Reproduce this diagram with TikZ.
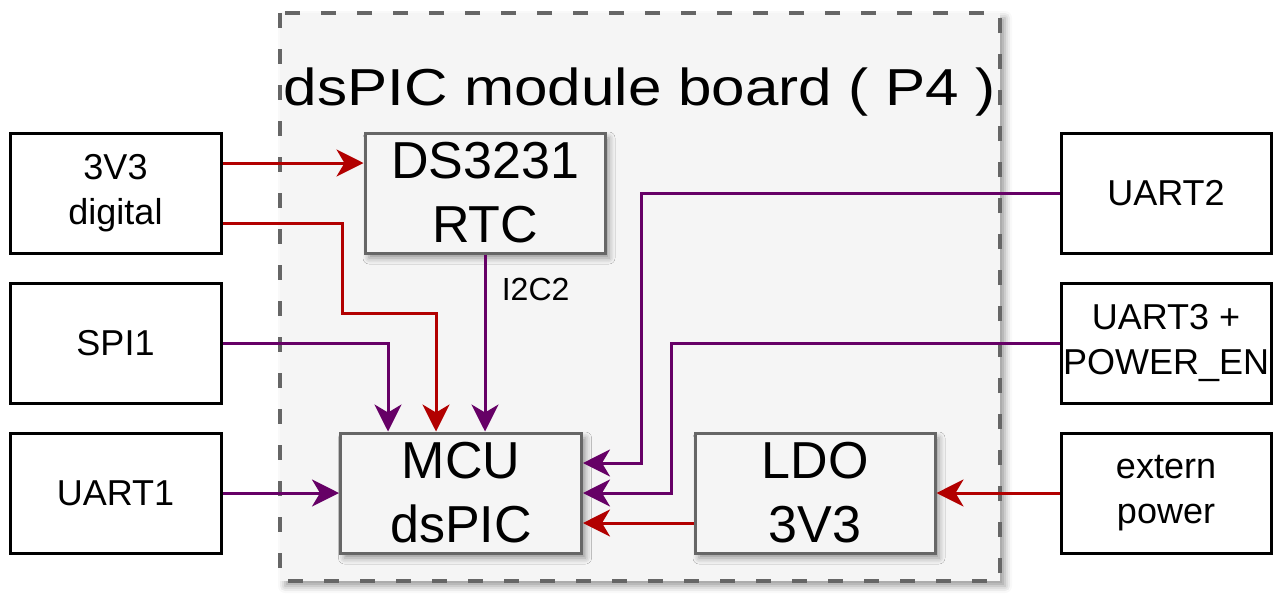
\documentclass[tikz,border=0pt]{standalone}
\usepackage{fontspec}
\setmainfont{Liberation Sans}
\usetikzlibrary{arrows.meta,shadows.blur}

\definecolor{pwrred}{HTML}{B20000}
\definecolor{sigpurple}{HTML}{660066}
\definecolor{boardgray}{HTML}{F5F5F5}
\definecolor{edgegray}{HTML}{666666}

\begin{document}
\begin{tikzpicture}[
    x=1pt, y=-1pt,
    block/.style={rectangle, draw=edgegray, fill=boardgray, line width=3pt, minimum width=240pt, minimum height=120pt, align=center, inner sep=0pt, font=\fontsize{52}{64}\selectfont, blur shadow={shadow xshift=4pt, shadow yshift=-5pt, shadow blur radius=6pt, shadow opacity=40}},
    port/.style={rectangle, draw=black, fill=white, line width=3pt, minimum width=211pt, minimum height=120pt, align=center, inner sep=0pt, font=\fontsize{36}{45}\selectfont},
    wire/.style={line width=3pt, -{Stealth[length=27pt, width=27pt, inset=8pt]}},
    pwr/.style={wire, draw=pwrred},
    sig/.style={wire, draw=sigpurple}
]
\useasboundingbox (0,0) rectangle (1281,600);

% Module board
\draw[draw=edgegray, fill=boardgray, line width=4.5pt, dash pattern=on 15pt off 21pt, blur shadow={shadow xshift=5pt, shadow yshift=-5pt, shadow blur radius=7pt, shadow opacity=40}] (280,13) rectangle (1000,581);
\node[anchor=base, font=\fontsize{52}{64}\selectfont] (title) at (640,105) {\scalebox{1.157}[1]{dsPIC module board ( P4 )}};

% Blocks on the board
\node[block] (rtc) at (485,193) {DS3231\\RTC};
\node[block, minimum width=241pt] (mcu) at (461,493) {MCU\\dsPIC};
\node[block] (ldo) at (815,493) {LDO\\3V3};

% External ports
\node[port] (digital) at (115.5,193) {3V3\\digital};
\node[port] (spi) at (115.5,343) {SPI1};
\node[port] (uartone) at (115.5,493) {UART1};
\node[port, minimum width=210pt] (uarttwo) at (1166,193) {UART2};
\node[port, minimum width=210pt] (uartthree) at (1166,343) {UART3 +\\POWER\_EN};
\node[port, minimum width=210pt] (extpwr) at (1166,493) {extern\\power};

% Connections
\draw[pwr] ([yshift=30pt]digital.east) -- ([yshift=30pt]rtc.west);
\draw[pwr] ([yshift=-30pt]digital.east) -| (342,313) -| ([xshift=-25pt]mcu.north);
\draw[sig] (spi.east) -| ([xshift=-73pt]mcu.north);
\draw[sig] (rtc.south) -- (rtc.south |- mcu.north) node[pos=0.2, anchor=west, xshift=12pt, font=\fontsize{32}{38}\selectfont] {I2C2};
\draw[sig] (uartone.east) -- (mcu.west);

\draw[sig] (uarttwo.west) -| (641,463) -- ([yshift=30pt]mcu.east);
\draw[sig] (uartthree.west) -| (671,493) -- (mcu.east);
\draw[pwr] ([yshift=-30pt]ldo.west) -- ([yshift=-30pt]mcu.east);
\draw[pwr] (extpwr.west) -- (ldo.east);

\end{tikzpicture}
\end{document}
